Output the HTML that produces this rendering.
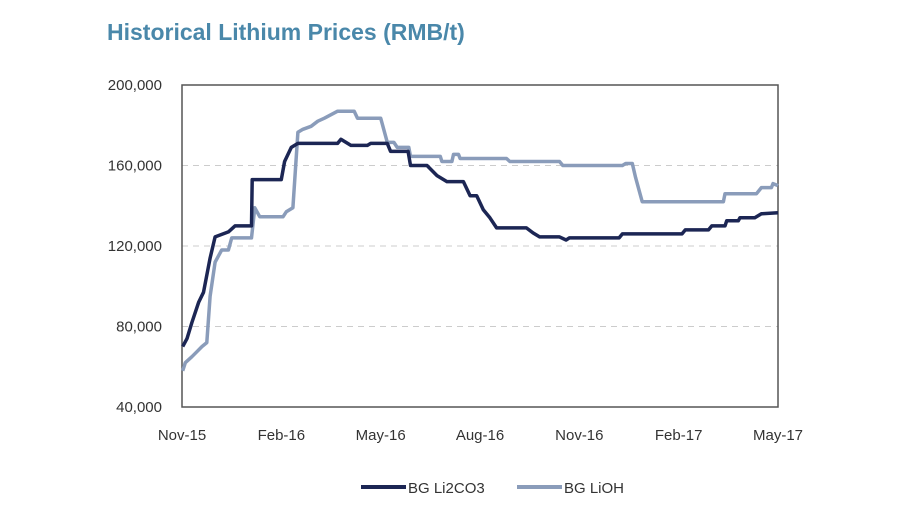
<!DOCTYPE html>
<html><head><meta charset="utf-8"><style>
body{margin:0;background:#fff;width:900px;height:515px;overflow:hidden;font-family:"Liberation Sans",sans-serif}
</style></head><body>
<svg id="chart" width="900" height="515" xmlns="http://www.w3.org/2000/svg">
<text x="107" y="40" font-size="23" font-weight="bold" fill="#4a88aa" font-family="Liberation Sans, sans-serif">Historical Lithium Prices (RMB/t)</text>
<g id="grid"></g>
<rect x="182" y="85" width="596" height="322" fill="none" stroke="#555" stroke-width="1.5"/>
<g id="series"></g>
<g id="axes"></g>
<g>
<line x1="361" y1="487" x2="406" y2="487" stroke="#1c2654" stroke-width="4"/>
<text x="408" y="493" font-size="15" fill="#333">BG Li2CO3</text>
<line x1="517" y1="487" x2="562" y2="487" stroke="#8a9cba" stroke-width="4"/>
<text x="564" y="493" font-size="15" fill="#333">BG LiOH</text>
</g>
</svg>
<script>
const xTickLabels=["Nov-15","Feb-16","May-16","Aug-16","Nov-16","Feb-17","May-17"];
const xTickMonths=[0,3,6,9,12,15,18];
const yTicks=[40000,80000,120000,160000,200000];
const li2co3Months=[0.02,0.15,0.3,0.5,0.65,0.85,1.0,1.4,1.6,2.1,2.12,3.0,3.1,3.3,3.5,4.7,4.8,5.1,5.6,5.7,6.2,6.3,6.83,6.9,7.4,7.7,8.0,8.5,8.7,8.9,9.1,9.3,9.5,10.4,10.6,10.8,11.4,11.6,11.7,13.2,13.3,15.1,15.2,15.9,16.0,16.4,16.45,16.8,16.85,17.3,17.5,18];
const li2co3Values=[70,74,82,92,97,114,124.5,127,130,130,153,153,162,169,171,171,173,170,170,171,171,167,167,160,160,155,152,152,145,145,138,134,129,129,126.5,124.5,124.5,123,124,124,126,126,128,128,130,130,132.5,132.5,134,134,136,136.5];
const liohMonths=[0.02,0.1,0.3,0.45,0.6,0.75,0.85,1.0,1.2,1.4,1.5,2.1,2.2,2.35,3.05,3.15,3.35,3.5,3.65,3.9,4.1,4.3,4.7,5.2,5.3,6.0,6.2,6.4,6.5,6.85,6.9,7.8,7.85,8.15,8.2,8.35,8.4,9.8,9.9,11.4,11.5,13.3,13.4,13.6,13.7,13.9,16.35,16.4,17.35,17.5,17.8,17.85,18];
const liohValues=[58,62,65,67.5,70,72,95,112,118,118,124,124,139,134.5,134.5,137,139,176.5,178,179.5,182,183.5,187,187,183.5,183.5,171.5,171.5,169,169,164.5,164.5,162,162,165.5,165.5,163.5,163.5,162,162,160,160,161,161,154,142,142,146,146,149,149,151,150];
const X0=182,X1=778,Y0=407,Y1=85;
const xScale=m=>X0+(m/18)*(X1-X0);
const yScale=v=>Y0-(v-40000)/(160000)*(Y0-Y1);
const NS="http://www.w3.org/2000/svg";
const grid=document.getElementById('grid'),axes=document.getElementById('axes'),series=document.getElementById('series');
yTicks.forEach(v=>{
 const y=yScale(v);
 if(v>40000&&v<200000){
  const l=document.createElementNS(NS,'line');
  
  
  l.setAttribute('x1',X0);l.setAttribute('x2',X1);l.setAttribute('y1',y);l.setAttribute('y2',y);
  l.setAttribute('stroke','#ccc');l.setAttribute('stroke-dasharray','6,5');l.setAttribute('stroke-width','1');
  grid.appendChild(l);
 }
 const t=document.createElementNS(NS,'text');
 
 
 t.setAttribute('x',162);t.setAttribute('y',y+5);t.setAttribute('text-anchor','end');
 t.setAttribute('font-size','15');t.setAttribute('fill','#333');
 t.textContent=v.toLocaleString('en-US');
 axes.appendChild(t);
});
xTickLabels.forEach((s,i)=>{
 const t=document.createElementNS(NS,'text');
 
 
 t.setAttribute('x',xScale(xTickMonths[i]));t.setAttribute('y',440);t.setAttribute('text-anchor','middle');
 t.setAttribute('font-size','15');t.setAttribute('fill','#333');
 t.textContent=s;
 axes.appendChild(t);
});
function draw(ms,vs,color,name){
 const p=document.createElementNS(NS,'polyline');
 
 
 p.setAttribute('points',ms.map((m,i)=>xScale(m).toFixed(1)+','+yScale(vs[i]*1000).toFixed(1)).join(' '));
 p.setAttribute('fill','none');p.setAttribute('stroke',color);p.setAttribute('stroke-width','3.5');p.setAttribute('stroke-linejoin','round');
 series.appendChild(p);
}
draw(liohMonths,liohValues,'#8a9cba','lioh-line');
draw(li2co3Months,li2co3Values,'#1c2654','li2co3-line');
</script>
</body></html>
